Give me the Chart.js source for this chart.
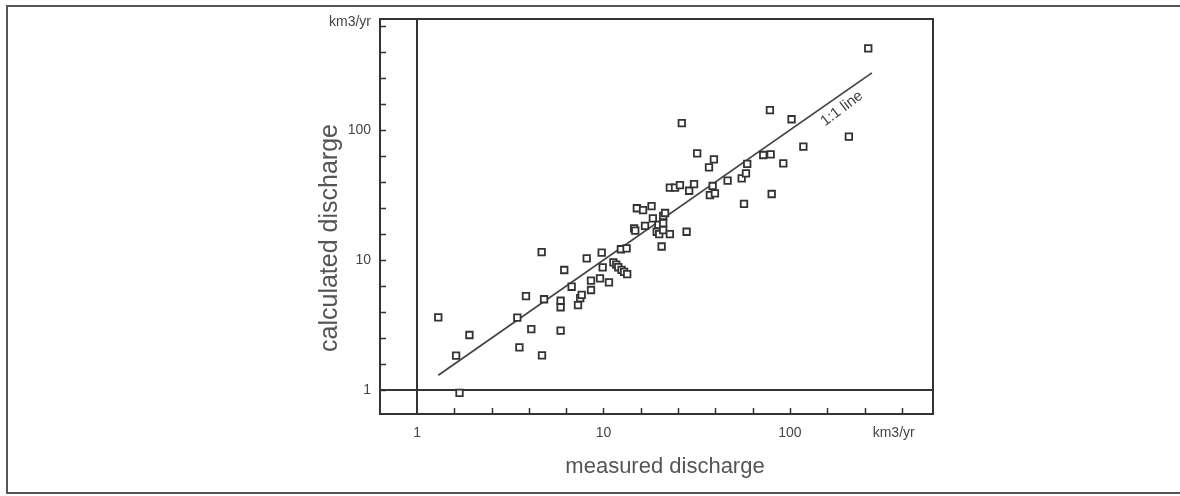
<!DOCTYPE html>
<html>
<head>
<meta charset="utf-8">
<script src="https://cdn.jsdelivr.net/npm/chart.js@4/dist/chart.umd.min.js"></script>
<style>
html,body{margin:0;padding:0;background:#fff;}
canvas{display:block;}
</style>
</head>
<body>
<canvas id="c" width="1180" height="496"></canvas>
<script>
// measured discharge (km3/yr)
const measured = [1.30,1.91,1.62,1.69,3.45,3.84,4.10,3.54,4.66,4.80,4.68,6.16,6.75,5.89,5.89,5.89,7.30,7.50,7.64,8.13,8.57,8.57,9.58,10.7,9.78,9.90,11.3,11.7,12.0,12.5,12.9,13.4,12.4,13.3,15.1,16.3,18.1,14.6,14.8,16.7,18.4,19.7,20.9,20.9,21.4,19.3,19.9,20.9,22.7,20.5,27.9,22.7,24.2,25.7,28.8,30.6,26.3,31.8,39.1,36.8,38.5,37.2,39.6,46.3,55.1,58.1,59.0,56.7,71.9,78.8,78.1,102,92.1,79.8,118,207,263];
// calculated discharge (km3/yr)
const calculated = [3.62,2.65,1.84,0.95,3.60,5.28,2.94,2.13,11.5,4.99,1.85,8.38,6.23,4.86,4.33,2.86,4.50,5.10,5.40,10.3,6.93,5.88,7.23,6.74,11.4,8.79,9.6,9.2,8.8,8.4,8.1,7.8,12.1,12.3,25.0,24.2,26.0,17.5,16.8,18.3,20.9,18.6,19.2,21.8,23.0,16.5,15.8,17.0,15.8,12.7,16.5,36.0,36.0,37.7,34.1,38.4,113,66.2,59.5,51.6,37.1,31.6,32.6,40.8,42.5,46.4,54.8,27.0,64.2,65.0,142,121,55.4,32.2,74.4,88.9,425];
// 1:1 reference line end points
const oneToOne = [1.3, 275];
// tick labels
const xTickValues = [1, 10, 100, 360];
const xTickLabels = ['1', '10', '100', 'km3/yr'];
const yTickValues = [1, 10, 100, 680];
const yTickLabels = ['1', '10', '100', 'km3/yr'];
const xTitle = 'measured discharge';
const yTitle = 'calculated discharge';
const lineLabel = '1:1 line';

const FONT = "'Liberation Sans', Arial, Helvetica, sans-serif";
const INK = '#333';

function minorTicks(min, max){
  const out = [];
  for (let k = -5; k <= 20; k++){
    const v = Math.pow(10, k/5);
    if (v > min && v < max) out.push(v);
  }
  return out;
}

const scatterData = measured.map((x,i)=>({x:x, y:calculated[i]}));
const lineData = oneToOne.map(v=>({x:v, y:v}));

const decor = {
  id:'decor',
  afterDraw(chart){
    const ctx = chart.ctx, a = chart.chartArea;
    const xs = chart.scales.x, ys = chart.scales.y;
    ctx.save();
    // outer page frame
    ctx.strokeStyle = '#555'; ctx.lineWidth = 2;
    ctx.beginPath();
    ctx.moveTo(1180, 6); ctx.lineTo(7, 6); ctx.lineTo(7, 493); ctx.lineTo(1180, 493);
    ctx.stroke();
    // plot frame
    ctx.strokeStyle = INK; ctx.lineWidth = 2;
    ctx.strokeRect(a.left, a.top, a.right - a.left, a.bottom - a.top);
    // inward tick marks
    ctx.lineWidth = 1.5;
    ctx.beginPath();
    minorTicks(ys.min, ys.max).forEach(v=>{
      const p = Math.round(ys.getPixelForValue(v)) + 0.5;
      ctx.moveTo(a.left, p); ctx.lineTo(a.left + 6, p);
    });
    minorTicks(xs.min, xs.max).forEach(v=>{
      if (Math.abs(v-1) < 1e-9) return;
      const p = Math.round(xs.getPixelForValue(v)) + 0.5;
      ctx.moveTo(p, a.bottom); ctx.lineTo(p, a.bottom - 6);
    });
    ctx.stroke();
    // axis titles
    ctx.fillStyle = '#555';
    ctx.textAlign = 'center'; ctx.textBaseline = 'middle';
    ctx.font = '22px ' + FONT;
    ctx.fillText(xTitle, 665, 467);
    ctx.save();
    ctx.translate(330, 238); ctx.rotate(-Math.PI/2);
    ctx.font = '25px ' + FONT;
    ctx.fillText(yTitle, 0, 0);
    ctx.restore();
    // 1:1 line label
    const cx = xs.getPixelForValue(190), cy = ys.getPixelForValue(190) + 15;
    ctx.save();
    ctx.translate(cx, cy); ctx.rotate(-37 * Math.PI/180);
    ctx.fillStyle = '#444';
    ctx.font = '15px ' + FONT;
    ctx.fillText(lineLabel, 0, 0);
    ctx.restore();
    ctx.restore();
  }
};

function gridColor(c){
  return (c.tick && Math.abs(c.tick.value - 1) < 1e-9) ? INK : 'rgba(0,0,0,0)';
}

new Chart(document.getElementById('c'), {
  data: {
    datasets: [
      {
        type:'scatter', data: scatterData, order:0,
        pointStyle:'rect', pointRadius:4.6, pointBorderWidth:1.8,
        pointBorderColor:'#333', pointBackgroundColor:'#fff'
      },
      {
        type:'line', data: lineData, order:1,
        borderColor:'#444', borderWidth:1.8, pointRadius:0, fill:false, tension:0
      }
    ]
  },
  options: {
    responsive:false, animation:false, devicePixelRatio:1,
    layout:{ padding:{ left:0, right:247, top:19, bottom:0 } },
    plugins:{ legend:{display:false}, tooltip:{enabled:false} },
    scales:{
      x:{
        type:'logarithmic', bounds:'data', min:0.633, max:585,
        afterBuildTicks(s){ s.ticks = xTickValues.map(v=>({value:v})); },
        afterFit(s){ s.height = 82; },
        ticks:{
          autoSkip:false, maxRotation:0, padding:11, color:'#444',
          font:{ family:FONT, size:14 },
          callback(v){ const i = xTickValues.indexOf(v); return i >= 0 ? xTickLabels[i] : ''; }
        },
        grid:{ drawTicks:false, color:gridColor, lineWidth:2 },
        border:{ display:false }
      },
      y:{
        type:'logarithmic', bounds:'data', min:0.654, max:714,
        afterBuildTicks(s){ s.ticks = yTickValues.map(v=>({value:v})); },
        afterFit(s){ s.width = 380; },
        ticks:{
          autoSkip:false, padding:9, color:'#444',
          font:{ family:FONT, size:14 },
          callback(v){ const i = yTickValues.indexOf(v); return i >= 0 ? yTickLabels[i] : ''; }
        },
        grid:{ drawTicks:false, color:gridColor, lineWidth:2 },
        border:{ display:false }
      }
    }
  },
  plugins:[decor]
});
</script>
</body>
</html>
